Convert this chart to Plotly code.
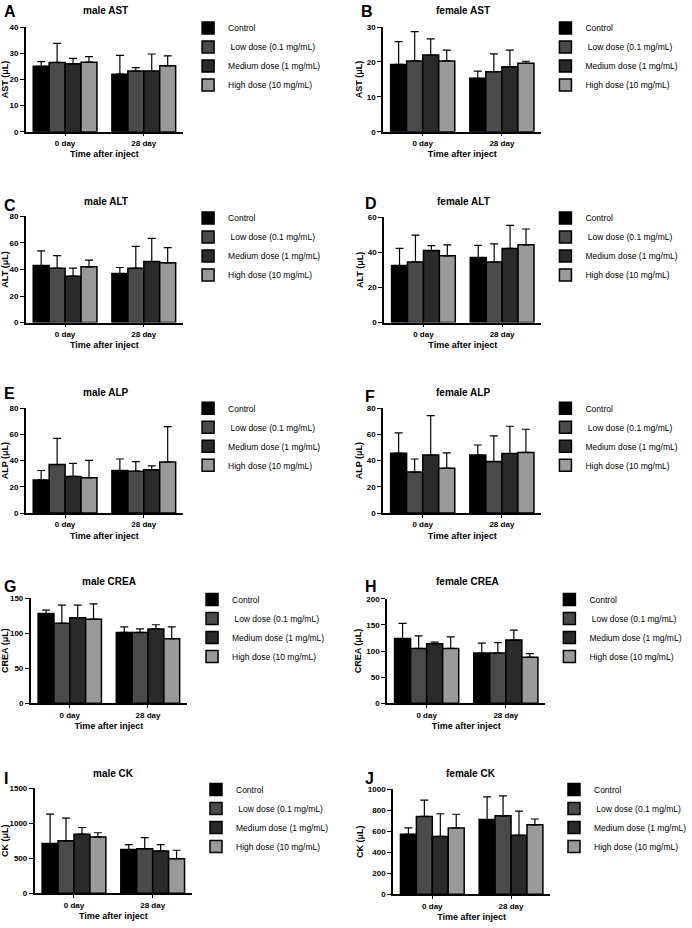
import plotly.graph_objects as go

W, H = 692, 928

days = ["0 day", "28 day"]
treatments = ["Control", " Low dose (0.1 mg/mL)", "Medium dose (1 mg/mL)", "High dose (10 mg/mL)"]
bar_colors = ["#000000", "#4a4a4a", "#2a2a2a", "#9a9a9a"]

# mean / SD  per treatment (Control, Low, Medium, High), each [0 day, 28 day]
male_ast_mean = [[25.0, 22.0], [26.5, 23.2], [26.0, 23.2], [26.6, 25.2]]
male_ast_sd = [[1.8, 7.2], [7.3, 1.3], [2.0, 6.5], [2.1, 3.8]]
female_ast_mean = [[19.3, 15.3], [20.3, 17.2], [22.0, 18.6], [20.3, 19.6]]
female_ast_sd = [[6.5, 2.1], [8.4, 5.1], [4.6, 4.8], [3.1, 0.6]]
male_alt_mean = [[43.0, 37.0], [41.0, 41.0], [35.0, 46.0], [42.0, 45.0]]
male_alt_sd = [[11.0, 4.5], [9.5, 16.5], [6.0, 17.5], [5.0, 11.5]]
female_alt_mean = [[32.5, 37.0], [34.5, 34.5], [41.0, 42.2], [38.0, 44.3]]
female_alt_sd = [[9.8, 7.0], [15.3, 10.3], [2.8, 13.1], [6.3, 9.0]]
male_alp_mean = [[25.3, 32.5], [37.0, 32.0], [28.0, 33.0], [27.0, 39.0]]
male_alp_sd = [[7.2, 8.8], [20.0, 7.3], [10.0, 3.0], [13.3, 27.0]]
female_alp_mean = [[45.7, 44.3], [31.3, 39.3], [44.3, 45.5], [34.3, 46.3]]
female_alp_sd = [[15.6, 7.7], [10.0, 19.7], [30.2, 20.8], [11.7, 17.7]]
male_crea_mean = [[128, 101], [114, 101], [122, 106], [120, 92]]
male_crea_sd = [[5, 8], [26, 5], [18, 6], [22, 17]]
female_crea_mean = [[124, 96], [105, 96], [114, 121], [105, 88]]
female_crea_sd = [[29, 19], [24, 20], [3, 19], [22, 7]]
male_ck_mean = [[710, 625], [750, 635], [845, 605], [805, 495]]
male_ck_sd = [[420, 70], [325, 160], [95, 90], [60, 120]]
female_ck_mean = [[570, 710], [740, 745], [550, 560], [630, 660]]
female_ck_sd = [[60, 215], [155, 190], [215, 230], [130, 55]]

y_ranges = [40, 30, 80, 60, 80, 80, 150, 200, 1500, 1000]
y_dticks = [10, 10, 20, 20, 20, 20, 50, 50, 500, 200]
panel_letters = ["A", "B", "C", "D", "E", "F", "G", "H", "I", "J"]
panel_titles = ["male AST", "female AST", "male ALT", "female ALT", "male ALP",
                "female ALP", "male CREA", "female CREA", "male CK", "female CK"]
y_titles = ["AST (μL)", "AST (μL)", "ALT (μL)", "ALT (μL)", "ALP (μL)",
            "ALP (μL)", "CREA (μL)", "CREA (μL)", "CK (μL)", "CK (μL)"]
means = [male_ast_mean, female_ast_mean, male_alt_mean, female_alt_mean, male_alp_mean,
         female_alp_mean, male_crea_mean, female_crea_mean, male_ck_mean, female_ck_mean]
sds = [male_ast_sd, female_ast_sd, male_alt_sd, female_alt_sd, male_alp_sd,
       female_alp_sd, male_crea_sd, female_crea_sd, male_ck_sd, female_ck_sd]

# layout geometry in pixels
x_dom_px = [(26, 185), (387, 547), (26, 185), (388, 547), (26, 185),
            (387, 547), (31, 189), (391, 551), (35, 194), (397, 556)]
y_dom_px = [(23.3, 129), (23.3, 129), (214.5, 321.7), (215.3, 321.7), (408.3, 514),
            (408.3, 514), (600, 706), (600.7, 706), (792, 898), (792.7, 899)]
title_pos = [(107, 7), (468, 7), (107, 199), (468, 199), (107, 392),
             (468, 392), (110, 583), (472, 583), (115, 777), (476, 777)]
letter_pos = [(2, 8), (363, 8), (2, 203), (367, 201), (2, 393),
              (367, 396), (2, 588), (367, 588), (2, 782), (367, 782)]
legend_text_x = [228, 589, 228, 589, 228, 589, 232, 593, 236, 598]
legend_mid_y = [53, 53, 245, 245, 437, 437, 630, 630, 822, 822]

FONT = "Liberation Sans, Arial, sans-serif"

fig = go.Figure()
layout = dict(
    width=W, height=H,
    margin=dict(l=0, r=0, t=0, b=0),
    paper_bgcolor="white", plot_bgcolor="white",
    barmode="group", bargap=0.19, bargroupgap=0,
    font=dict(family=FONT, color="black"),
    annotations=[],
)

for i in range(10):
    sfx = "" if i == 0 else str(i + 1)
    xa, ya = "x" + sfx, "y" + sfx
    leg = "legend" + sfx
    for t in range(4):
        fig.add_trace(go.Bar(
            x=days, y=means[i][t], name=treatments[t],
            xaxis=xa, yaxis=ya, legend=leg, offsetgroup=str(t),
            marker=dict(color=bar_colors[t], line=dict(color="black", width=1.5)),
            error_y=dict(type="data", symmetric=False, array=sds[i][t],
                         arrayminus=[0] * len(days), color="black",
                         thickness=1.2, width=4),
        ))
    x0, x1 = x_dom_px[i]
    y0, y1 = y_dom_px[i]
    layout["xaxis" + sfx] = dict(
        domain=[x0 / W, x1 / W], anchor=ya, range=[-0.5, 1.5],
        showline=True, linecolor="black", linewidth=1.5,
        ticks="outside", ticklen=3, tickwidth=1.2, tickcolor="black",
        tickfont=dict(size=8, weight="bold"), showgrid=False, zeroline=False,
        title=dict(text="Time after inject", font=dict(size=9, weight="bold"), standoff=4),
        fixedrange=True,
    )
    layout["yaxis" + sfx] = dict(
        domain=[1 - y1 / H, 1 - y0 / H], anchor=xa, range=[0, y_ranges[i]],
        dtick=y_dticks[i], tick0=0,
        showline=True, linecolor="black", linewidth=1.5,
        ticks="outside", ticklen=4, tickwidth=1.2, tickcolor="black",
        tickfont=dict(size=8, weight="bold"), showgrid=False, zeroline=False,
        title=dict(text=y_titles[i], font=dict(size=9, weight="bold"), standoff=3),
        fixedrange=True,
    )
    layout[leg] = dict(
        x=(legend_text_x[i] - 38) / W, y=1 - legend_mid_y[i] / H,
        xanchor="left", yanchor="middle", bgcolor="rgba(0,0,0,0)",
        font=dict(size=8.5, family=FONT), tracegroupgap=0, itemwidth=30,
        itemclick=False, itemdoubleclick=False,
    )
    tx, ty = title_pos[i]
    layout["annotations"].append(dict(
        text=panel_titles[i], x=tx / W, y=1 - ty / H, xref="paper", yref="paper",
        xanchor="center", yanchor="middle", showarrow=False,
        font=dict(size=10, weight="bold"),
    ))
    lx, ly = letter_pos[i]
    layout["annotations"].append(dict(
        text=panel_letters[i], x=lx / W, y=1 - ly / H, xref="paper", yref="paper",
        xanchor="left", yanchor="middle", showarrow=False,
        font=dict(size=16, weight="bold"),
    ))

fig.update_layout(**layout)
fig.write_html(
    "out.html",
    config={"displayModeBar": False, "staticPlot": False},
    post_script="document.body.style.margin='0';document.body.style.overflow='hidden';",
)
